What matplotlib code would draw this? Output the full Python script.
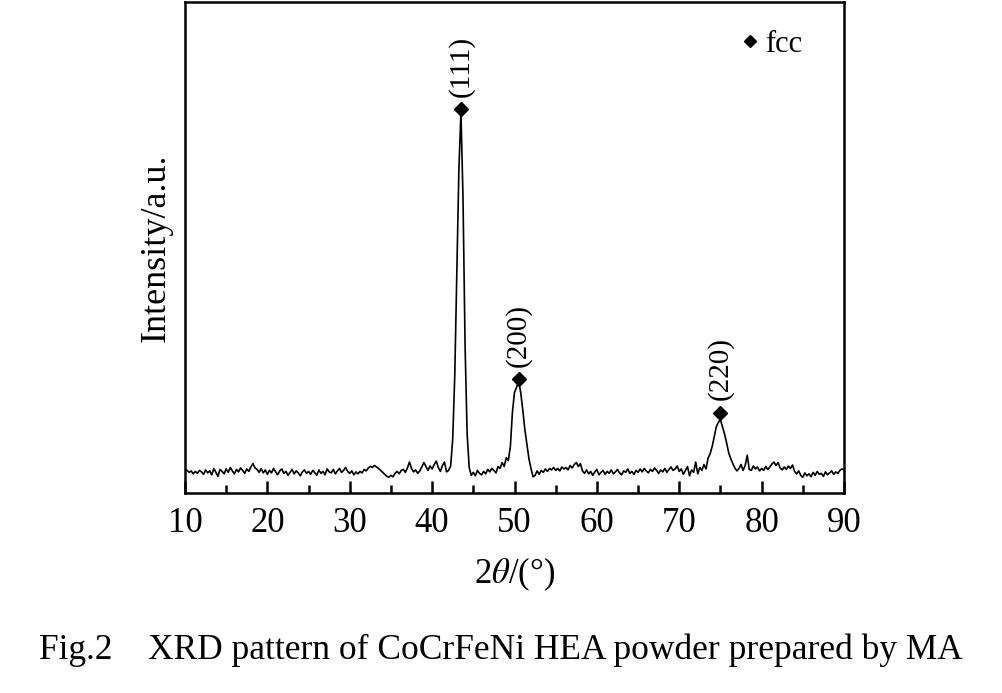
import numpy as np
import matplotlib
matplotlib.use("Agg")
import matplotlib.pyplot as plt
from matplotlib.lines import Line2D

plt.rcParams["font.family"] = ["Liberation Serif", "DejaVu Serif"]
plt.rcParams["mathtext.fontset"] = "stix"

# 2theta grid, 0.25 deg step, 10..90
two_theta = np.arange(10, 90.01, 0.25)

# intensity (a.u.), one row per 5 deg
intensity = [
    5.0, 4.6, 4.2, 4.5, 3.9, 4.4, 4.0, 4.6, 4.3, 3.8, 4.7, 4.1, 4.5, 3.7, 5.0, 4.2, 3.4, 4.8, 4.4, 3.9,
    4.9, 4.2, 5.2, 4.5, 3.9, 4.8, 4.3, 5.1, 4.6, 4.0, 4.9, 4.4, 5.3, 6.0, 5.1, 4.8, 4.2, 5.0, 4.1, 4.7,
    3.8, 4.6, 4.1, 5.0, 4.3, 3.7, 4.5, 4.9, 4.0, 4.4, 3.6, 4.2, 4.8, 3.9, 4.5, 4.1, 3.5, 4.3, 4.7, 4.0,
    4.4, 3.8, 4.6, 4.2, 3.6, 4.7, 4.0, 4.4, 3.7, 4.9, 4.3, 4.1, 4.8, 3.9, 4.5, 5.0, 4.2, 4.6, 5.2, 4.4,
    4.0, 4.5, 3.7, 4.3, 3.9, 4.4, 4.1, 4.8, 4.5, 5.1, 5.4, 5.2, 5.6, 5.3, 5.0, 4.6, 4.2, 3.8, 3.4, 3.2,
    3.6, 3.3, 4.0, 4.4, 3.9, 4.6, 4.8, 4.2, 5.1, 6.3, 5.0, 4.3, 4.7, 4.0, 4.5, 5.3, 6.2, 5.4, 4.6, 5.5,
    4.9, 5.8, 6.5, 5.2, 4.4, 5.6, 6.3, 4.3, 4.6, 5.5, 11.0, 24.0, 45.0, 66.0, 77.6, 60.0, 30.0, 12.0, 5.2, 3.6,
    4.2, 3.5, 4.6, 4.0, 3.7, 4.4, 3.9, 4.8, 4.3, 5.0, 4.6, 4.1, 5.4, 5.0, 6.2, 5.4, 7.2, 6.6, 9.5, 16.5,
    20.5, 21.5, 22.8, 20.5, 17.0, 13.0, 10.0, 7.0, 5.0, 3.3, 3.6, 4.5, 3.8, 4.6, 4.2, 4.9, 4.4, 5.0, 4.7, 5.2,
    4.6, 5.0, 4.5, 5.3, 4.9, 5.2, 4.7, 5.6, 5.1, 5.8, 6.2, 5.4, 6.0, 4.5, 4.0, 4.7, 3.9, 4.4, 3.6, 4.3,
    4.8, 3.7, 4.2, 4.6, 3.8, 4.4, 4.0, 4.7, 3.9, 4.3, 4.8, 4.1, 3.7, 4.5, 4.2, 4.9, 4.0, 4.4, 3.8, 4.6,
    4.2, 4.9, 4.3, 5.0, 4.5, 4.1, 4.8, 4.4, 5.1, 4.6, 4.0, 4.7, 4.3, 5.0, 4.2, 4.8, 5.3, 4.6, 4.9, 5.5,
    4.4, 4.9, 3.8, 4.6, 5.4, 3.5, 4.7, 4.2, 6.3, 3.9, 5.2, 4.6, 5.8, 4.9, 7.1, 8.0, 9.5, 11.5, 13.5, 14.4,
    14.9, 13.5, 12.0, 10.2, 8.2, 7.0, 6.0, 5.1, 4.5, 5.0, 5.8, 4.6, 5.6, 7.7, 4.8, 4.6, 5.5, 4.9, 5.3, 4.5,
    5.0, 4.6, 5.4, 4.8, 5.3, 5.9, 6.3, 5.6, 6.2, 5.1, 4.7, 5.3, 4.8, 5.5, 5.0, 5.7, 4.4, 3.9, 4.5, 3.6,
    3.2, 4.1, 3.5, 3.9, 3.3, 4.2, 3.6, 4.4, 3.8, 4.0, 3.4, 4.3, 3.7, 4.1, 4.5, 3.8, 4.3, 4.0, 4.6, 4.9,
    4.7,
]

# fcc peaks
peak_pos = [43.5, 50.5, 75.0]
peak_height = [78.2, 23.2, 16.3]
peak_labels = ["(111)", "(200)", "(220)"]

fig = plt.figure(figsize=(10.02, 6.93), dpi=100)
ax = fig.add_axes([185 / 1002, 200 / 693, 659 / 1002, 491 / 693])

ax.plot(two_theta, intensity, color="black", lw=1.2)
ax.plot(peak_pos, peak_height, ls="none", marker="D", ms=7, color="black")
for x, y, lab in zip(peak_pos, peak_height, peak_labels):
    ax.annotate(lab, (x, y), xytext=(0, 9), textcoords="offset points",
                rotation=90, ha="center", va="bottom", fontsize=21)

ax.set_xlim(10, 90)
ax.set_ylim(0, 100)
ax.set_xticks(range(10, 91, 10))
ax.set_xticks(range(15, 90, 10), minor=True)
ax.tick_params(axis="x", which="major", direction="in", length=9, width=1.8,
               labelsize=25, pad=10)
ax.tick_params(axis="x", which="minor", direction="in", length=6, width=1.8)
ax.set_yticks([])
for s in ax.spines.values():
    s.set_linewidth(1.8)

ax.set_xlabel(r"2$\theta$/(°)", fontsize=25, labelpad=11)
ax.set_ylabel("Intensity/a.u.", fontsize=26, labelpad=9)

handle = Line2D([], [], ls="none", marker="D", ms=6, color="black")
ax.legend([handle], ["fcc"], loc="upper right", bbox_to_anchor=(0.978, 1.0),
          frameon=False, fontsize=22, handlelength=0.6, handletextpad=0.2)

fig.text(0.5, 0.062, "Fig.2    XRD pattern of CoCrFeNi HEA powder prepared by MA",
         ha="center", va="center", fontsize=25.5)

fig.savefig("out.png", dpi=100)
